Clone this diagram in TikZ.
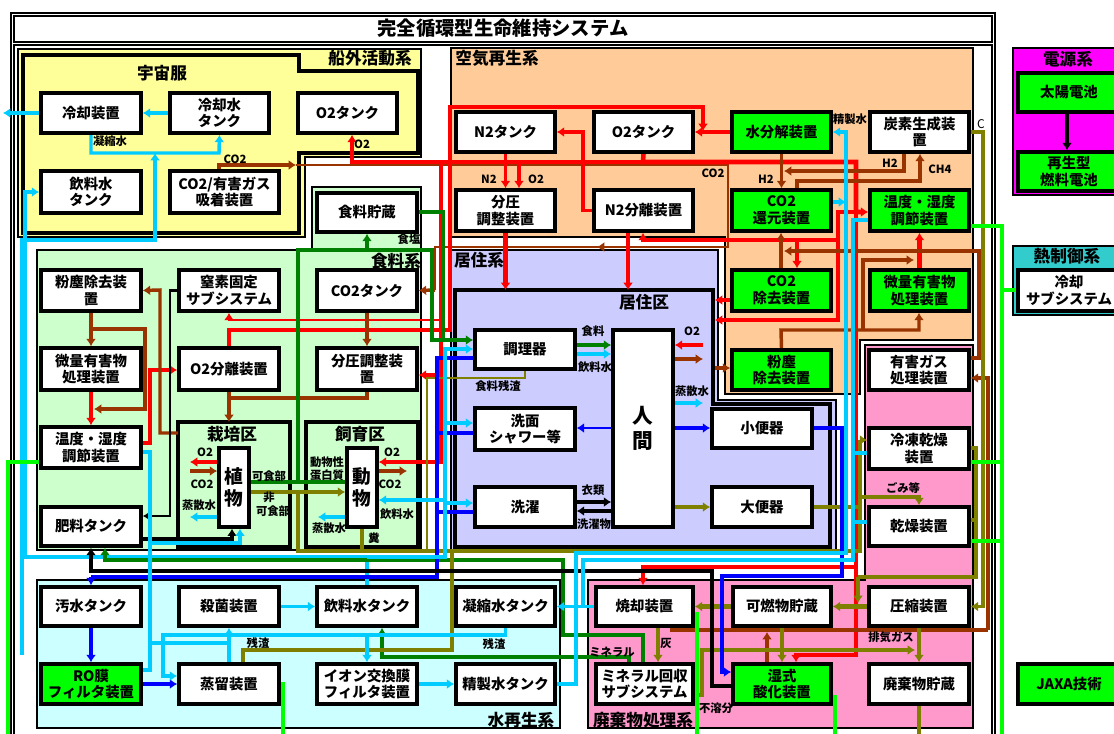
\documentclass[tikz,border=0pt]{standalone}
\usepackage{fontspec}
\setmainfont{Noto Sans CJK JP}
\usetikzlibrary{arrows.meta}
\pgfdeclarelayer{bg}
\pgfdeclarelayer{lines}
\pgfsetlayers{bg,lines,main}
\definecolor{cR}{HTML}{FF0000}
\definecolor{cB}{HTML}{993300}
\definecolor{cC}{HTML}{00CCFF}
\definecolor{cBl}{HTML}{0000FF}
\definecolor{cG}{HTML}{008000}
\definecolor{cO}{HTML}{808000}
\definecolor{cLG}{HTML}{00FF00}
\definecolor{rY}{HTML}{FFFF99}
\definecolor{rP}{HTML}{FFCC99}
\definecolor{rG}{HTML}{CCFFCC}
\definecolor{rL}{HTML}{CCCCFF}
\definecolor{rC}{HTML}{CCFFFF}
\definecolor{rK}{HTML}{FF99CC}
\definecolor{rM}{HTML}{FF00FF}
\definecolor{rT}{HTML}{33CCCC}
\tikzset{
  box/.style={draw, line width=2.7pt, inner sep=0pt, align=center,
    font=\bfseries\fontsize{10.8}{12.5}\selectfont},
  ln/.style={line width=2.6pt},
  lnt/.style={line width=1.8pt},
  lnk/.style={line width=3.4pt},
  arr/.style={-{Latex[length=5.5pt,width=7.5pt]}},
  lab/.style={font=\bfseries\fontsize{8.5}{9.5}\selectfont, inner sep=0pt, align=center},
  rlab/.style={font=\bfseries\fontsize{12.5}{14}\selectfont, inner sep=0pt},
  reg/.style={draw, line width=0.9pt},
  zone/.style={draw, line width=3.7pt},
}
\newcommand\mkbox[7]{%
  \pgfmathsetmacro\bcx{(#2+#4)/2}%
  \pgfmathsetmacro\bcy{(#3+#5)/2}%
  \pgfmathsetmacro\bw{(#4-#2)*0.75}%
  \pgfmathsetmacro\bh{(#5-#3)*0.75}%
  \node[box,fill=#7,minimum width=\bw pt,minimum height=\bh pt] (#1) at (\bcx,\bcy) {#6};}
\begin{document}
\begin{tikzpicture}[x=0.75pt,y=-0.75pt]
\useasboundingbox (0,0) rectangle (1114,733);

% ---------------- regions ----------------
\begin{pgfonlayer}{bg}
\fill[white] (0,0) rectangle (1114,733);
\draw[line width=1.8pt] (11,13) rectangle (995,745);
\draw[line width=1.2pt] (14,16) rectangle (992,42);
\draw[line width=1.2pt] (14,45) rectangle (992,745);
% EVA
\filldraw[fill=rY,reg] (18,49) -- (421,49) -- (421,157) -- (305,157) -- (305,237) -- (18,237) -- cycle;
\draw[zone] (23,55) -- (299,55) -- (299,71) -- (418,71) -- (418,153) -- (299,153) -- (299,233) -- (23,233) -- cycle;
% air
\filldraw[fill=rP,reg] (451,48) -- (973,48) -- (973,340) -- (860,340) -- (860,394) -- (725,394) -- (725,237) -- (451,237) -- cycle;
% food
\filldraw[fill=rG,reg] (37,250) -- (312,250) -- (312,187) -- (421,187) -- (421,550) -- (37,550) -- cycle;
\draw[zone] (178,422) rectangle (290,547);
\draw[zone] (306,422) rectangle (418,547);
% habitat
\filldraw[fill=rL,reg] (451,250) -- (718,250) -- (718,400) -- (836,400) -- (836,551) -- (451,551) -- cycle;
\draw[zone] (455,290) -- (713,290) -- (713,404) -- (830,404) -- (830,547) -- (455,547) -- cycle;
% water
\filldraw[fill=rC,reg] (37,580) rectangle (560,728);
% waste
\filldraw[fill=rK,reg] (865,345) -- (973,345) -- (973,728) -- (588,728) -- (588,580) -- (865,580) -- cycle;
% power, thermal
\filldraw[fill=rM,reg] (1013,48) rectangle (1125,195);
\filldraw[fill=rT,reg] (1013,246) rectangle (1125,315);
\end{pgfonlayer}

% ---------------- boxes ----------------
% EVA
\mkbox{evcool}{41}{93}{141}{133}{冷却装置}{white}
\mkbox{evcwt}{170}{93}{269}{133}{冷却水\\タンク}{white}
\mkbox{evo2}{298}{93}{397}{133}{O2タンク}{white}
\mkbox{evdw}{41}{171}{141}{213}{飲料水\\タンク}{white}
\mkbox{evco2}{170}{171}{279}{213}{CO2/有害ガス\\吸着装置}{white}
% air
\mkbox{n2t}{456}{112}{555}{152}{N2タンク}{white}
\mkbox{o2t}{594}{112}{693}{152}{O2タンク}{white}
\mkbox{h2o}{732}{112}{831}{152}{水分解装置}{cLG}
\mkbox{cgen}{870}{112}{969}{152}{炭素生成装\\置}{white}
\mkbox{ppa}{456}{190}{555}{231}{分圧\\調整装置}{white}
\mkbox{n2s}{594}{190}{693}{231}{N2分離装置}{white}
\mkbox{co2r}{732}{190}{831}{231}{CO2\\還元装置}{cLG}
\mkbox{thca}{870}{190}{969}{231}{温度・湿度\\調節装置}{cLG}
\mkbox{co2x}{732}{270}{831}{311}{CO2\\除去装置}{cLG}
\mkbox{tcoa}{870}{270}{969}{311}{微量有害物\\処理装置}{cLG}
\mkbox{dusta}{732}{350}{831}{390}{粉塵\\除去装置}{cLG}
% food
\mkbox{fstore}{317}{193}{417}{232}{食料貯蔵}{white}
\mkbox{dustf}{41}{270}{141}{311}{粉塵除去装\\置}{white}
\mkbox{nfix}{179}{270}{279}{311}{窒素固定\\サブシステム}{white}
\mkbox{co2t}{317}{270}{417}{311}{CO2タンク}{white}
\mkbox{tcof}{41}{348}{141}{390}{微量有害物\\処理装置}{white}
\mkbox{o2s}{179}{348}{279}{390}{O2分離装置}{white}
\mkbox{ppf}{317}{348}{417}{390}{分圧調整装\\置}{white}
\mkbox{thcf}{41}{427}{141}{468}{温度・湿度\\調節装置}{white}
\mkbox{fert}{41}{507}{141}{546}{肥料タンク}{white}
\node[box,fill=white,minimum width=22.5pt,minimum height=59pt,font=\bfseries\fontsize{14}{17}\selectfont] (plant) at (234,487.5) {植\\物};
\node[box,fill=white,minimum width=22.5pt,minimum height=59pt,font=\bfseries\fontsize{14}{17}\selectfont] (animal) at (362,487.5) {動\\物};
% habitat
\mkbox{cook}{475}{330}{575}{369}{調理器}{white}
\node[box,fill=white,minimum width=45pt,minimum height=147.75pt,font=\bfseries\fontsize{15.5}{19}\selectfont] (human) at (643,428.5) {人\\間};
\mkbox{wash}{475}{408}{575}{450}{洗面\\シャワー等}{white}
\mkbox{laund}{475}{487}{575}{527}{洗濯}{white}
\mkbox{urin}{712}{409}{812}{448}{小便器}{white}
\mkbox{feces}{712}{487}{812}{527}{大便器}{white}
% water
\mkbox{wwt}{41}{587}{141}{626}{汚水タンク}{white}
\mkbox{ster}{179}{587}{279}{626}{殺菌装置}{white}
\mkbox{dwt}{317}{587}{417}{626}{飲料水タンク}{white}
\mkbox{cwt}{456}{587}{555}{626}{凝縮水タンク}{white}
\mkbox{ro}{41}{664}{141}{704}{RO膜\\フィルタ装置}{cLG}
\mkbox{dist}{179}{664}{279}{704}{蒸留装置}{white}
\mkbox{ion}{317}{664}{417}{704}{イオン交換膜\\フィルタ装置}{white}
\mkbox{pwt}{456}{664}{555}{704}{精製水タンク}{white}
% waste
\mkbox{hgas}{869}{350}{969}{390}{有害ガス\\処理装置}{white}
\mkbox{fdry}{869}{428}{969}{469}{冷凍乾燥\\装置}{white}
\mkbox{dry}{869}{507}{969}{546}{乾燥装置}{white}
\mkbox{comb}{733}{587}{831}{626}{可燃物貯蔵}{white}
\mkbox{comp}{869}{587}{969}{626}{圧縮装置}{white}
\mkbox{incin}{596}{587}{693}{626}{焼却装置}{white}
\mkbox{miner}{596}{664}{693}{704}{ミネラル回収\\サブシステム}{white}
\mkbox{wetox}{733}{664}{831}{704}{湿式\\酸化装置}{cLG}
\mkbox{wstore}{869}{664}{969}{704}{廃棄物貯蔵}{white}
% right side
\mkbox{solar}{1018}{73}{1120}{112}{太陽電池}{cLG}
\mkbox{fcell}{1018}{152}{1120}{191}{再生型\\燃料電池}{cLG}
\mkbox{coolsub}{1018}{270}{1120}{311}{冷却\\サブシステム}{white}
\mkbox{jaxa}{1018}{664}{1120}{704}{JAXA技術}{cLG}

% ---------------- connectors ----------------
\begin{pgfonlayer}{lines}
% EVA
\draw[ln,cC,arr] (evcwt.west) -- (evcool.east);
\draw[ln,cC,arr] (evcool.west) -- (3,113);
\draw[ln,cC,arr] (evcool.south -| 91,0) -- (91,153) -- (219,153) -- (evcwt.south);
\draw[ln,cC,arr] (22,655) -- (22,240) -- (155,240) -- (155,153);
\draw[ln,cC,arr] (dwt.north) -- (367,557) -- (25,557) -- (25,192) -- (evdw.west);
\draw[ln,cB,arr] (evco2.north -| 219,0) -- (219,165) -- (296,165);
\draw[lnt,cB] (296,165) -- (728,165) -- (728,247) -- (435,247) -- (435,290);
\draw[ln,cB,arr] (435,290) -- (co2t.east);
\draw[lnt,cB,arr] (700,247) -- (597,247);
% red (air)
\draw[ln,cR,arr] (643,162) -- (352,162) -- (evo2.south -| 352,0);
\draw[lnk,cR,arr] (o2t.south) -- (643,162) -- (856,162) -- (856,212) -- (thca.west |- 0,212);
\draw[lnk,cR,arr] (643,162) -- (519,162) -- (ppa.north -| 519,0);
\draw[ln,cR,arr] (n2t.south) -- (ppa.north -| n2t.south);
\draw[ln,cR,arr] (h2o.west) -- (o2t.east);
\draw[lnk,cR,arr] (o2s.north) -- (229,330) -- (450,330) -- (450,107) -- (703,107) -- (703,131);
\draw[ln,cR,arr] (n2s.west) -- (583,210.5) -- (583,132) -- (n2t.east);
\draw[lnk,cR,arr] (ppa.south) -- (505.5,290);
\draw[ln,cR,arr] (n2s.south -| 628,0) -- (628,290);
\draw[ln,cR,arr] (838,240) -- (643,240) -- (n2s.south -| 643,0);
\draw[lnk,cR,arr] (797,240) -- (co2x.north -| 797,0);
\draw[lnk,cR,arr] (856,212) -- (838,212) -- (838,320) -- (715,320);
\draw[lnk,cR,arr] (co2x.west |- 0,300) -- (715,300);
\draw[lnk,cR,arr] (tcoa.north) -- (thca.south);
\draw[ln,cR,arr] (856,212) -- (856,655) -- (796,655) -- (wetox.north -| 796,0);
\draw[ln,cR,arr] (856,567) -- (643,567) -- (incin.north -| 643,0);
% red (food)
\draw[ln,cR,arr] (441,162) -- (441,375) -- (ppf.east |- 0,375);
\draw[ln,cR,arr] (441,375) -- (441,462) -- (animal.east |- 0,462);
\draw[lnt,cR,arr] (441,320) -- (229,320) -- (nfix.south);
\draw[ln,cR,arr] (plant.west |- 0,462) -- (190,462);
\draw[ln,cR,arr] (703,345) -- (human.east |- 0,345);
\draw[ln,cR,arr] (tcof.south) -- (thcf.north);
\draw[lnk,cR,arr] (thcf.east |- 0,443) -- (150,443) -- (150,370) -- (o2s.west |- 0,370);
% brown
\draw[ln,cB,arr] (178,433) -- (160,433) -- (160,290) -- (dustf.east);
\draw[ln,cB,arr] (dustf.south) -- (tcof.north);
\draw[ln,cB,arr] (91,329) -- (145,329) -- (145,409) -- (94,409);
\draw[ln,cB,arr] (co2t.south) -- (ppf.north);
\draw[ln,cB] (ppf.south) -- (367,398) -- (229,398);
\draw[ln,cB,arr] (o2s.south) -- (229,422);
\draw[ln,cB,arr] (190,471) -- (plant.west |- 0,471);
\draw[ln,cB,arr] (animal.east |- 0,471) -- (407,471);
\draw[ln,cB,arr] (human.east |- 0,359) -- (703,359);
\draw[ln,cB,arr] (715,368) -- (dusta.west |- 0,368);
\draw[ln,cB,arr] (h2o.south) -- (co2r.north);
\draw[ln,cB,arr] (cgen.south -| 904,0) -- (904,171) -- (784,171);
\draw[ln,cB,arr] (co2r.north -| 797,0) -- (797,181) -- (920,181) -- (cgen.south -| 920,0);
\draw[ln,cB,arr] (co2x.north -| 781,0) -- (co2r.south -| 781,0);
\draw[ln,cB,arr] (hgas.east |- 0,358) -- (979,358) -- (979,251) -- (784,251);
\draw[ln,cB,arr] (dusta.north) -- (781,330) -- (919,330) -- (tcoa.south -| 919,0);
\draw[ln,cB,arr] (863,330) -- (863,260) -- (914,260);
\draw[ln,cB] (incin.south -| 672,0) -- (672,630) -- (988,630);
\draw[ln,cB,arr] (988,630) -- (988,378) -- (hgas.east |- 0,378);
\draw[ln,cB,arr] (wetox.north -| 767,0) -- (767,632);
% dark green
\draw[ln,cG,arr] (cook.east |- 0,345) -- (human.west |- 0,345);
\draw[ln,cG] (plant.east |- 0,482) -- (animal.west |- 0,482);
\draw[lnk,cG,arr] (298,482) -- (298,250) -- (367,250) -- (fstore.south -| 367,0);
\draw[ln,cG,arr] (367,250) -- (432,250) -- (432,340) -- (cook.west |- 0,340);
\draw[ln,cG] (fstore.east |- 0,212) -- (443,212) -- (443,340);
\draw[ln,cG,arr] (miner.north -| 629,0) -- (629,657) -- (382,657) -- (dwt.south -| 382,0);
\draw[ln,cG,arr] (miner.north -| 643,0) -- (643,635) -- (563,635) -- (563,560) -- (105,560) -- (fert.south -| 105,0);
% olive
\draw[ln,cO,arr] (plant.east |- 0,492) -- (animal.west |- 0,492);
\draw[lnk,cO] (298,492) -- (298,551) -- (860,551) -- (860,440);
\draw[ln,cO,arr] (860,440) -- (fdry.west |- 0,440);
\draw[ln,cO] (animal.south) -- (362,551);
\draw[lnt,cO] (cook.south) -- (525,378) -- (427,378) -- (427,551);
\draw[ln,cO,arr] (human.east |- 0,507) -- (feces.west);
\draw[ln,cO] (feces.east) -- (860,507);
\draw[ln,cO,arr] (860,497) -- (919,497) -- (dry.north -| 919,0);
\draw[ln,cO,arr] (cgen.east) -- (983,132) -- (983,606.5) -- (comp.east);
\draw[ln,cO] (fdry.east |- 0,448) -- (976,448) -- (976,577) -- (858,577);
\draw[ln,cO,arr] (858,577) -- (858,603);
\draw[ln,cO] (dry.east |- 0,520) -- (976,520);
\draw[lnk,cO,arr] (comp.west) -- (comb.east);
\draw[lnk,cO,arr] (comb.west) -- (incin.east |- comb.west);
\draw[lnk,cO,arr] (comb.south) -- (wetox.north -| comb.south);
\draw[lnk,cO,arr] (comp.south) -- (wstore.north);
\draw[lnk,cO] (wstore.south) -- (919,740);
\draw[ln,cO,arr] (incin.south -| 658,0) -- (miner.north -| 658,0);
\draw[ln,cO,arr] (miner.east |- 0,695) -- (702,695) -- (702,650) -- (915,650);
\draw[ln,cO] (dist.north -| 243,0) -- (243,650) -- (452,650) -- (452,551);
% blue
\draw[ln,cBl,arr] (human.east |- 0,428) -- (urin.west |- 0,428);
\draw[lnt,cBl,arr] (human.west |- 0,428) -- (wash.east |- 0,428);
\draw[ln,cBl,arr] (urin.east |- 0,428) -- (842,428) -- (842,576) -- (722,576) -- (722,672) -- (wetox.west |- 0,672);
\draw[lnk,cBl] (cook.west |- 0,358) -- (437,358) -- (437,577) -- (91,577);
\draw[lnk,cBl,arr] (91,577) -- (wwt.north);
\draw[ln,cBl] (wash.west |- 0,433) -- (437,433);
\draw[ln,cBl] (laund.west |- 0,512) -- (437,512);
\draw[lnk,cBl,arr] (wwt.south) -- (ro.north);
\draw[lnk,cBl,arr] (ro.east) -- (dist.west);
% black
\draw[lnk,arr] (wetox.west |- 0,686) -- (712,686) -- (712,571) -- (91,571) -- (fert.south);
\draw[lnk,arr] (fert.east |- 0,539) -- (232,539) -- (plant.south -| 232,0);
\draw[lnt,arr] (nfix.west) -- (170,290.5) -- (170,516) -- (fert.east |- 0,516);
\draw[ln,arr] (laund.east |- 0,502) -- (human.west |- 0,502);
\draw[ln,arr] (human.west |- 0,511) -- (laund.east |- 0,511);
\draw[ln,arr] (solar.south -| 1067,0) -- (fcell.north -| 1067,0);
% cyan
\draw[lnk,cC,arr] (367,557) -- (445,557) -- (445,349) -- (cook.west |- 0,349);
\draw[ln,cC,arr] (445,423) -- (wash.west |- 0,423);
\draw[ln,cC,arr] (445,503) -- (laund.west |- 0,503);
\draw[ln,cC,arr] (445,500) -- (animal.east |- 0,500);
\draw[ln,cC,arr] (cook.east |- 0,354) -- (human.west |- 0,354);
\draw[ln,cC,arr] (human.east |- 0,403) -- (703,403);
\draw[ln,cC,arr] (plant.west |- 0,517) -- (190,517);
\draw[ln,cC,arr] (animal.west |- 0,517) -- (318,517);
\draw[ln,cC,arr] (150,543) -- (240,543) -- (plant.south -| 240,0);
\draw[ln,cC] (thcf.east |- 0,452) -- (150,452) -- (150,670) -- (ro.east |- 0,670);
\draw[ln,cC] (150,643) -- (229,643);
\draw[ln,cC,arr] (dist.north) -- (ster.south);
\draw[ln,cC,arr] (ster.east) -- (dwt.west);
\draw[ln,cC,arr] (cwt.south) -- (505.5,635) -- (163,635) -- (163,676) -- (dist.west |- 0,676);
\draw[ln,cC,arr] (367,635) -- (ion.north);
\draw[ln,cC,arr] (ion.east) -- (pwt.west);
\draw[ln,cC,arr] (pwt.east) -- (576,684) -- (576,553) -- (846,553) -- (846,132) -- (h2o.east);
\draw[ln,cC,arr] (co2r.east |- 0,202) -- (846,202);
\draw[ln,cC,arr] (thca.west |- 0,220) -- (853,220) -- (853,560) -- (583,560) -- (583,606.5) -- (cwt.east);
\draw[ln,cC] (incin.west) -- (583,606.5);
\draw[ln,cC] (fdry.west |- 0,453) -- (853,453);
\draw[ln,cC] (dry.west |- 0,522) -- (853,522);
% bright green (thermal)
\draw[lnk,cLG] (thcf.west |- 0,462) -- (8,462) -- (8,740);
\draw[lnk,cLG] (thca.east |- 0,226) -- (1002,226) -- (1002,740);
\draw[lnk,cLG] (1002,290) -- (coolsub.west |- 0,290);
\draw[ln,cLG] (fdry.east |- 0,462) -- (1002,462);
\draw[ln,cLG] (dry.east |- 0,541) -- (1002,541);
\draw[lnk,cLG] (dist.east) -- (283,684) -- (283,740);
\draw[lnk,cLG] (incin.east |- 0,614) -- (697,614) -- (697,740);
\draw[lnk,cLG] (wetox.east |- 0,697) -- (835,697) -- (835,740);
\end{pgfonlayer}

% ---------------- titles and labels ----------------
\node[font=\bfseries\fontsize{14.5}{16}\selectfont] (title) at (503,28) {完全循環型生命維持システム};
\node[rlab] (l1) at (162,73) {宇宙服};
\node[rlab] (l2) at (370,58) {船外活動系};
\node[rlab] (l3) at (497,58) {空気再生系};
\node[rlab] (l4) at (479,260) {居住系};
\node[rlab] (l5) at (644,302) {居住区};
\node[rlab] (l6) at (396,261) {食料系};
\node[rlab] (l7) at (232,434) {栽培区};
\node[rlab] (l8) at (360,434) {飼育区};
\node[rlab] (l9) at (521,720) {水再生系};
\node[rlab] (l10) at (643,720) {廃棄物処理系};
\node[rlab] (l11) at (1068,59) {電源系};
\node[rlab] (l12) at (1067,256) {熱制御系};
% small labels
\node[lab] (s1) at (110,141) {凝縮水};
\node[lab] (s2) at (235,159) {CO2};
\node[lab] (s3) at (362,144) {O2};
\node[lab] (s4) at (489,179) {N2};
\node[lab] (s5) at (536,179) {O2};
\node[lab] (s6) at (713,173) {CO2};
\node[lab] (s7) at (850,119) {精製水};
\node[font=\fontsize{9}{10}\selectfont,inner sep=0pt] (s8) at (981,124) {C};
\node[lab] (s9) at (890,163) {H2};
\node[lab] (s10) at (940,169) {CH4};
\node[lab] (s11) at (766,179) {H2};
\node[lab] (s12) at (409,239) {食塩};
\node[lab] (s13) at (593,331) {食料};
\node[lab] (s14) at (595,367) {飲料水};
\node[lab] (s15) at (692,331) {O2};
\node[lab] (s16) at (692,391) {蒸散水};
\node[lab] (s17) at (498,386) {食料残渣};
\node[lab] (s18) at (593,490) {衣類};
\node[lab] (s19) at (594,524) {洗濯物};
\node[lab] (s20) at (205,452) {O2};
\node[lab] (s21) at (202,484) {CO2};
\node[lab] (s22) at (269,476) {可食部};
\node[lab] (s23) at (269,497) {非};
\node[lab] (s24) at (273,511) {可食部};
\node[lab] (s25) at (199,505) {蒸散水};
\node[lab] (s26) at (327,469) {動物性\\蛋白質};
\node[lab] (s27) at (392,452) {O2};
\node[lab] (s28) at (390,484) {CO2};
\node[lab] (s29) at (397,514) {飲料水};
\node[lab] (s30) at (329,528) {蒸散水};
\node[lab] (s31) at (374,538) {糞};
\node[lab] (s32) at (258,643) {残渣};
\node[lab] (s33) at (494,644) {残渣};
\node[lab] (s34) at (612,652) {ミネラル};
\node[lab] (s35) at (666,643) {灰};
\node[lab] (s36) at (716,708) {不溶分};
\node[lab] (s37) at (891,637) {排気ガス};
\node[lab] (s38) at (903,488) {ごみ等};
\end{tikzpicture}
\end{document}
